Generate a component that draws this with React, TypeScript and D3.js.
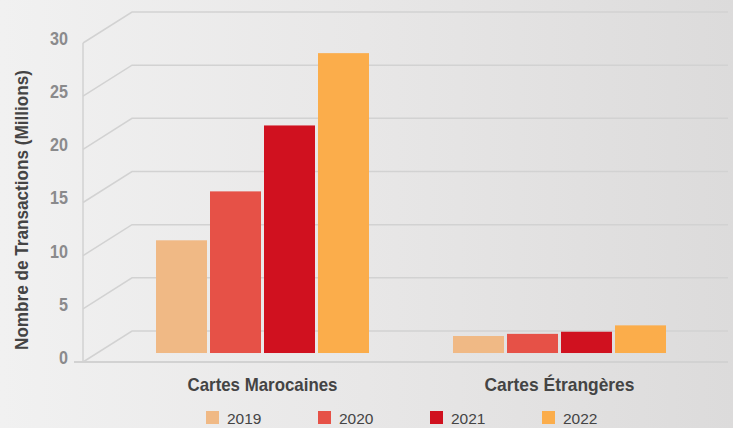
import { scaleBand, scaleLinear } from "d3";

// grouped bars in front of a pseudo-3D wall/floor grid

const categories = ["Cartes Marocaines", "Cartes Étrangères"];
const years = ["2019", "2020", "2021", "2022"];
const values: Record<string, number[]> = {
  "2019": [10.6, 1.6],
  "2020": [15.2, 1.8],
  "2021": [21.4, 2.0],
  "2022": [28.2, 2.6],
};
const yTicks = [0, 5, 10, 15, 20, 25, 30];

const COLORS = ["#f0b985", "#e65147", "#d0111f", "#fbad4b"];
const W = 733;
const H = 428;
const FRONT = { left: 83, right: 728, bottom: 362, top: 43 };
const DEPTH = { dx: 49, dy: -31 };
const BAR_DEPTH = 0.29; // fraction of depth where bars stand
const FONT = "'Liberation Sans', Arial, sans-serif";
const GRID = "#d2d2d2";

const App = () => {
  const y = scaleLinear().domain([0, 30]).range([FRONT.bottom, FRONT.top]);
  const barDy = DEPTH.dy * BAR_DEPTH;

  const x0 = scaleBand<string>().domain(categories).range([114, 708]);
  const x1 = scaleBand<string>().domain(years).range([0, 213]).paddingInner(3 / 54);
  const groupOffset = (x0.bandwidth() - 213) / 2;

  const grid = yTicks.map((t) => {
    const yf = y(t);
    const yb = yf + DEPTH.dy;
    return (
      <g key={t}>
        <path
          d={`M${FRONT.left},${yf} L${FRONT.left + DEPTH.dx},${yb} L${FRONT.right},${yb}`}
          stroke={GRID}
          strokeWidth={1.5}
          fill="none"
        />
        <text
          transform={`translate(68,${yf}) scale(0.85,1)`}
          dy="0.1em"
          textAnchor="end"
          fontFamily={FONT}
          fontWeight="bold"
          fontSize={19}
          fill="#8a8a8c"
        >
          {t}
        </text>
      </g>
    );
  });

  const bars = categories.map((c, ci) =>
    years.map((yr, yi) => {
      const v = values[yr][ci];
      const bx = (x0(c) ?? 0) + groupOffset + (x1(yr) ?? 0);
      const top = y(v) + barDy;
      const base = y(0) + barDy;
      return (
        <rect
          key={c + yr}
          x={bx}
          y={top}
          width={x1.bandwidth()}
          height={base - top}
          fill={COLORS[yi]}
        />
      );
    })
  );

  return (
    <svg
      width={W}
      height={H}
      style={{ position: "absolute", left: 0, top: 0 }}
    >
      <defs>
        <linearGradient id="bg" x1="0" x2="1" y1="0" y2="0">
          <stop offset="0%" stopColor="#f1f1f1" />
          <stop offset="50%" stopColor="#e8e7e7" />
          <stop offset="100%" stopColor="#dcdbdb" />
        </linearGradient>
      </defs>
      <rect width={W} height={H} fill="url(#bg)" />
      {grid}
      <line x1={FRONT.left} x2={FRONT.left} y1={FRONT.top} y2={FRONT.bottom} stroke={GRID} strokeWidth={1.5} />
      <line x1={74} x2={FRONT.right} y1={FRONT.bottom} y2={FRONT.bottom} stroke={GRID} strokeWidth={2} />
      <g>{bars}</g>
      {categories.map((c) => (
        <text
          key={c}
          x={(x0(c) ?? 0) + x0.bandwidth() / 2}
          y={391}
          textAnchor="middle"
          fontFamily={FONT}
          fontWeight="bold"
          fontSize={19}
          textLength={150}
          lengthAdjust="spacingAndGlyphs"
          fill="#444"
        >
          {c}
        </text>
      ))}
      <text
        transform="translate(28,210) rotate(-90)"
        textAnchor="middle"
        fontFamily={FONT}
        fontWeight="bold"
        fontSize={18}
        textLength={280}
        lengthAdjust="spacingAndGlyphs"
        fill="#444"
      >
        Nombre de Transactions (Millions)
      </text>
      {years.map((yr, i) => (
        <g key={yr} transform={`translate(${206 + i * 112},411)`}>
          <rect width={13} height={13} fill={COLORS[i]} />
          <text x={21} y={12.5} fontFamily={FONT} fontSize={15.5} fill="#444">
            {yr}
          </text>
        </g>
      ))}
    </svg>
  );
};

export default App;
